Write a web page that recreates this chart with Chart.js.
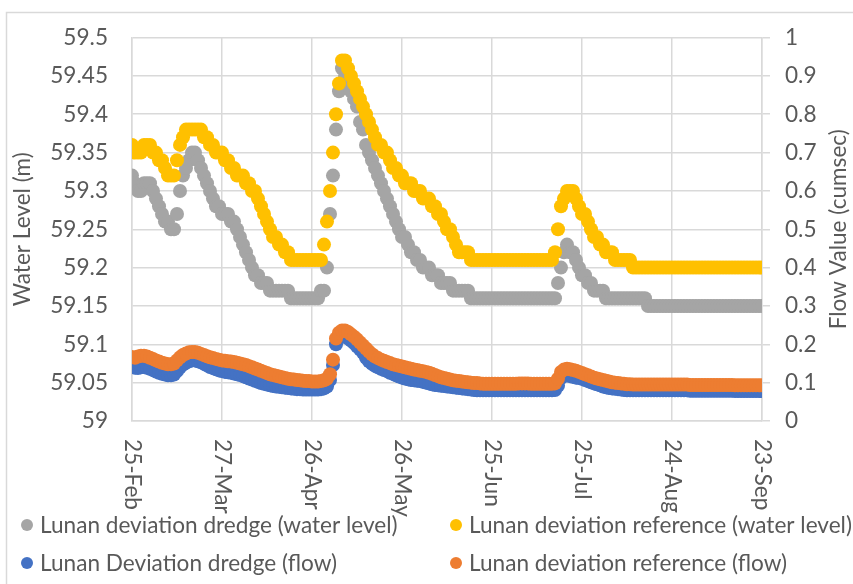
<!DOCTYPE html>
<html>
<head>
<meta charset="utf-8">
<script src="https://cdn.jsdelivr.net/npm/chart.js@4.4.1/dist/chart.umd.min.js"></script>
<style>
  html, body { margin: 0; padding: 0; background: #ffffff; }
  #wrap { width: 853px; height: 584px; }
</style>
</head>
<body>
<div id="wrap"><canvas id="c" width="853" height="584"></canvas></div>
<script>
// ---------- DATA ----------
const xTickLabels = ['25-Feb','27-Mar','26-Apr','26-May','25-Jun','25-Jul','24-Aug','23-Sep'];
const yLeftTickLabels = ['59','59.05','59.1','59.15','59.2','59.25','59.3','59.35','59.4','59.45','59.5'];
const yRightTickLabels = ['0','0.1','0.2','0.3','0.4','0.5','0.6','0.7','0.8','0.9','1'];
const seriesNames = [
  'Lunan deviation dredge (water level)',
  'Lunan deviation reference (water level)',
  'Lunan Deviation dredge (flow)',
  'Lunan deviation reference (flow)'
];

// daily values from 25-Feb (day 0) to 23-Sep (day 210)
const dredgeLevel = [
59.32,59.31,59.30,59.30,59.31,59.31,59.31,59.30,59.29,59.28,
59.27,59.26,59.26,59.25,59.25,59.27,59.30,59.32,59.33,59.34,
59.35,59.35,59.34,59.33,59.32,59.31,59.30,59.29,59.28,59.28,
59.27,59.27,59.27,59.26,59.26,59.25,59.24,59.23,59.22,59.21,
59.20,59.19,59.19,59.18,59.18,59.18,59.17,59.17,59.17,59.17,
59.17,59.17,59.17,59.16,59.16,59.16,59.16,59.16,59.16,59.16,
59.16,59.16,59.16,59.17,59.17,59.20,59.27,59.32,59.38,59.43,
59.46,59.45,59.44,59.43,59.42,59.41,59.39,59.38,59.36,59.35,
59.34,59.33,59.32,59.31,59.30,59.29,59.28,59.27,59.26,59.25,
59.24,59.24,59.23,59.22,59.22,59.21,59.21,59.20,59.20,59.20,
59.19,59.19,59.19,59.18,59.18,59.18,59.18,59.17,59.17,59.17,
59.17,59.17,59.17,59.16,59.16,59.16,59.16,59.16,59.16,59.16,
59.16,59.16,59.16,59.16,59.16,59.16,59.16,59.16,59.16,59.16,
59.16,59.16,59.16,59.16,59.16,59.16,59.16,59.16,59.16,59.16,
59.16,59.16,59.18,59.20,59.22,59.23,59.22,59.22,59.21,59.20,
59.19,59.19,59.18,59.18,59.17,59.17,59.17,59.17,59.16,59.16,
59.16,59.16,59.16,59.16,59.16,59.16,59.16,59.16,59.16,59.16,
59.16,59.16,59.15,59.15,59.15,59.15,59.15,59.15,59.15,59.15,
59.15,59.15,59.15,59.15,59.15,59.15,59.15,59.15,59.15,59.15,
59.15,59.15,59.15,59.15,59.15,59.15,59.15,59.15,59.15,59.15,
59.15,59.15,59.15,59.15,59.15,59.15,59.15,59.15,59.15,59.15,
59.15
];
const refLevel = [
59.36,59.35,59.35,59.35,59.36,59.36,59.36,59.35,59.35,59.34,
59.34,59.33,59.32,59.32,59.32,59.34,59.36,59.37,59.38,59.38,
59.38,59.38,59.38,59.38,59.37,59.37,59.36,59.36,59.35,59.35,
59.35,59.34,59.34,59.33,59.33,59.32,59.32,59.32,59.31,59.31,
59.30,59.30,59.29,59.28,59.27,59.26,59.25,59.24,59.24,59.23,
59.23,59.22,59.22,59.21,59.21,59.21,59.21,59.21,59.21,59.21,
59.21,59.21,59.21,59.21,59.23,59.26,59.30,59.35,59.40,59.44,
59.47,59.47,59.46,59.45,59.44,59.43,59.42,59.41,59.40,59.39,
59.38,59.37,59.36,59.36,59.35,59.35,59.34,59.33,59.33,59.32,
59.32,59.31,59.31,59.31,59.30,59.30,59.30,59.29,59.29,59.29,
59.28,59.28,59.27,59.27,59.26,59.25,59.25,59.24,59.23,59.22,
59.22,59.22,59.22,59.21,59.21,59.21,59.21,59.21,59.21,59.21,
59.21,59.21,59.21,59.21,59.21,59.21,59.21,59.21,59.21,59.21,
59.21,59.21,59.21,59.21,59.21,59.21,59.21,59.21,59.21,59.21,
59.21,59.22,59.25,59.28,59.29,59.30,59.30,59.30,59.29,59.28,
59.27,59.27,59.26,59.25,59.24,59.24,59.23,59.23,59.22,59.22,
59.22,59.21,59.21,59.21,59.21,59.21,59.21,59.20,59.20,59.20,
59.20,59.20,59.20,59.20,59.20,59.20,59.20,59.20,59.20,59.20,
59.20,59.20,59.20,59.20,59.20,59.20,59.20,59.20,59.20,59.20,
59.20,59.20,59.20,59.20,59.20,59.20,59.20,59.20,59.20,59.20,
59.20,59.20,59.20,59.20,59.20,59.20,59.20,59.20,59.20,59.20,
59.20
];
const dredgeFlow = [
0.141,0.139,0.138,0.140,0.141,0.139,0.136,0.133,0.129,0.126,
0.123,0.121,0.119,0.119,0.121,0.130,0.140,0.147,0.152,0.156,
0.158,0.158,0.156,0.153,0.149,0.145,0.141,0.138,0.135,0.132,
0.130,0.128,0.127,0.126,0.124,0.122,0.120,0.117,0.114,0.111,
0.108,0.105,0.102,0.099,0.097,0.095,0.093,0.091,0.090,0.089,
0.088,0.087,0.086,0.085,0.084,0.083,0.083,0.082,0.082,0.082,
0.082,0.082,0.082,0.083,0.085,0.090,0.107,0.146,0.200,0.218,
0.222,0.221,0.216,0.210,0.203,0.195,0.187,0.178,0.165,0.156,
0.149,0.144,0.140,0.136,0.133,0.130,0.126,0.123,0.119,0.116,
0.113,0.111,0.109,0.107,0.106,0.105,0.104,0.102,0.100,0.098,
0.096,0.094,0.093,0.092,0.091,0.090,0.089,0.088,0.087,0.086,
0.085,0.084,0.083,0.082,0.081,0.080,0.080,0.080,0.080,0.080,
0.080,0.080,0.080,0.080,0.080,0.080,0.080,0.080,0.080,0.080,
0.080,0.080,0.080,0.080,0.080,0.080,0.080,0.080,0.080,0.080,
0.080,0.081,0.092,0.112,0.118,0.119,0.117,0.115,0.113,0.112,
0.110,0.107,0.104,0.101,0.098,0.096,0.093,0.090,0.088,0.086,
0.085,0.084,0.083,0.082,0.081,0.080,0.080,0.080,0.080,0.080,
0.080,0.080,0.080,0.080,0.080,0.080,0.080,0.080,0.080,0.080,
0.080,0.080,0.080,0.080,0.080,0.080,0.079,0.079,0.079,0.079,
0.079,0.079,0.079,0.079,0.079,0.079,0.079,0.079,0.079,0.079,
0.079,0.078,0.078,0.078,0.078,0.078,0.078,0.078,0.078,0.078,
0.078
];
const refFlow = [
0.167,0.165,0.168,0.170,0.170,0.168,0.165,0.162,0.158,0.155,
0.152,0.150,0.148,0.148,0.150,0.158,0.166,0.172,0.176,0.179,
0.180,0.180,0.178,0.175,0.172,0.169,0.166,0.164,0.162,0.160,
0.158,0.157,0.156,0.155,0.154,0.152,0.150,0.148,0.146,0.143,
0.140,0.137,0.134,0.131,0.128,0.125,0.122,0.120,0.118,0.116,
0.114,0.112,0.110,0.109,0.108,0.107,0.106,0.105,0.104,0.104,
0.103,0.103,0.103,0.104,0.106,0.110,0.122,0.160,0.215,0.230,
0.236,0.236,0.232,0.226,0.220,0.213,0.205,0.197,0.189,0.181,
0.174,0.168,0.164,0.160,0.157,0.154,0.151,0.148,0.146,0.144,
0.142,0.140,0.138,0.136,0.134,0.133,0.131,0.130,0.128,0.126,
0.123,0.120,0.117,0.114,0.112,0.110,0.108,0.106,0.105,0.104,
0.103,0.102,0.101,0.100,0.099,0.099,0.098,0.097,0.097,0.097,
0.097,0.097,0.097,0.097,0.097,0.097,0.097,0.097,0.097,0.098,
0.098,0.098,0.098,0.097,0.097,0.097,0.097,0.097,0.097,0.097,
0.097,0.098,0.110,0.128,0.134,0.136,0.135,0.133,0.131,0.128,
0.125,0.122,0.119,0.116,0.113,0.111,0.109,0.107,0.105,0.103,
0.101,0.100,0.099,0.098,0.097,0.096,0.096,0.095,0.095,0.095,
0.095,0.095,0.095,0.095,0.095,0.095,0.095,0.095,0.095,0.095,
0.095,0.095,0.095,0.095,0.095,0.095,0.094,0.094,0.094,0.094,
0.094,0.094,0.094,0.094,0.094,0.094,0.094,0.094,0.094,0.094,
0.094,0.093,0.093,0.093,0.093,0.093,0.093,0.093,0.093,0.093,
0.093
];

// ---------- STYLE ----------
const TEXT = '#595959';
const GRID = '#d9d9d9';
const FAMILY = 'Lato, "Open Sans", sans-serif';
const colors = ['#A5A5A5', '#FFC000', '#4472C4', '#ED7D31'];

// fit font size so the first legend entry has the width seen in the reference
const mctx = document.createElement('canvas').getContext('2d');
mctx.font = '100px ' + FAMILY;
const FS = Math.round(100 * 357 / mctx.measureText(seriesNames[0]).width * 10) / 10;

const toPts = arr => arr.map((v, i) => ({ x: i, y: v }));

const decor = {
  id: 'decor',
  beforeDraw(chart) {
    const ctx = chart.ctx;
    ctx.save();
    ctx.fillStyle = '#fff';
    ctx.fillRect(0, 0, chart.width, chart.height);
    ctx.strokeStyle = GRID;
    ctx.lineWidth = 1.5;
    ctx.strokeRect(6.5, 12.5, chart.width + 20, chart.height + 20);
    ctx.restore();
  },
  afterDraw(chart) {
    const ctx = chart.ctx;
    const xs = chart.scales.x;
    const area = chart.chartArea;
    ctx.save();
    ctx.fillStyle = TEXT;
    ctx.font = FS + 'px ' + FAMILY;
    // x tick labels rotated 90deg (top to bottom)
    xs.ticks.forEach((t, i) => {
      const px = xs.getPixelForValue(t.value);
      ctx.save();
      ctx.translate(px, area.bottom + 18);
      ctx.rotate(Math.PI / 2);
      ctx.textAlign = 'left';
      ctx.textBaseline = 'middle';
      ctx.fillText(xTickLabels[i], 0, 0);
      ctx.restore();
    });
    // axis titles
    const cy = (area.top + area.bottom) / 2;
    [['Water Level (m)', 23], ['Flow Value (cumsec)', 839]].forEach(([txt, x]) => {
      ctx.save();
      ctx.translate(x, cy);
      ctx.rotate(-Math.PI / 2);
      ctx.textAlign = 'center';
      ctx.textBaseline = 'middle';
      ctx.fillText(txt, 0, 0);
      ctx.restore();
    });
    // legend (2 x 2 grid)
    const cols = [27, 456];
    const rows = [525, 563];
    chart.data.datasets.forEach((ds, i) => {
      const cx = cols[i % 2], ry = rows[Math.floor(i / 2)];
      ctx.beginPath();
      ctx.arc(cx, ry, 6, 0, Math.PI * 2);
      ctx.fillStyle = ds.backgroundColor;
      ctx.fill();
      ctx.fillStyle = TEXT;
      ctx.textAlign = 'left';
      ctx.textBaseline = 'middle';
      ctx.fillText(ds.label, cx + 13, ry + 1);
    });
    ctx.restore();
  }
};

const mk = (i, data, axis, order) => ({
  label: seriesNames[i],
  data: toPts(data),
  yAxisID: axis,
  backgroundColor: colors[i],
  borderColor: colors[i],
  pointRadius: 7,
  pointHoverRadius: 7,
  pointBorderWidth: 0,
  showLine: false,
  order: order
});

new Chart(document.getElementById('c'), {
  type: 'scatter',
  data: {
    datasets: [
      mk(0, dredgeLevel, 'y', 4),
      mk(1, refLevel, 'y', 3),
      mk(2, dredgeFlow, 'y1', 2),
      mk(3, refFlow, 'y1', 1)
    ]
  },
  options: {
    responsive: false,
    animation: false,
    devicePixelRatio: 1,
    layout: { padding: { top: 37, left: 0, right: 0, bottom: 0 } },
    plugins: { legend: { display: false }, tooltip: { enabled: false } },
    scales: {
      x: {
        type: 'linear', min: 0, max: 210,
        ticks: { stepSize: 30, display: false },
        grid: { color: GRID, lineWidth: 1.5, drawTicks: false },
        border: { color: GRID, width: 1.5 },
        afterFit(s) { s.height = 163; }
      },
      y: {
        position: 'left', min: 59, max: 59.5,
        ticks: {
          stepSize: 0.05, padding: 24, color: TEXT,
          font: { family: FAMILY, size: FS },
          callback: (v, i) => yLeftTickLabels[i]
        },
        grid: { color: GRID, lineWidth: 1.5, drawTicks: false },
        border: { color: GRID, width: 1.5 },
        afterFit(s) { s.width = 132; }
      },
      y1: {
        position: 'right', min: 0, max: 1,
        ticks: {
          stepSize: 0.1, padding: 15, color: TEXT,
          font: { family: FAMILY, size: FS },
          callback: (v, i) => yRightTickLabels[i]
        },
        grid: { drawOnChartArea: false, drawTicks: true, tickLength: 8, color: GRID, lineWidth: 1.5 },
        border: { color: GRID, width: 1.5 },
        afterFit(s) { s.width = 91; }
      }
    }
  },
  plugins: [decor]
});
</script>
</body>
</html>
